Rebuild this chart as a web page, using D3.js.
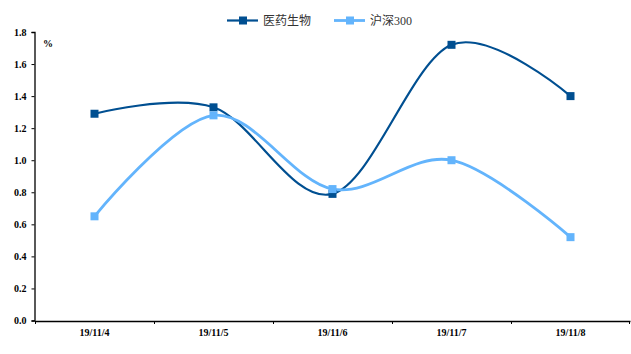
<!DOCTYPE html>
<html>
<head>
<meta charset="utf-8">
<script src="https://cdn.jsdelivr.net/npm/d3@7"></script>
<style>
    body { margin: 0; background: #fff; }
    svg { display: block; }
</style>
</head>
<body>
<script>
// Chart data
var dates = ["19/11/4", "19/11/5", "19/11/6", "19/11/7", "19/11/8"];
var pharma = [1.29, 1.33, 0.79, 1.72, 1.40];
var hs300 = [0.65, 1.28, 0.82, 1.00, 0.52];
var yTicks = [0, 0.2, 0.4, 0.6, 0.8, 1.0, 1.2, 1.4, 1.6, 1.8];

var series = [
    { name: "医药生物", values: pharma, color: "#004f91", width: 2.2 },
    { name: "沪深300", values: hs300, color: "#63b4fc", width: 2.8 }
];

var width = 631, height = 354;
var margin = { top: 32, right: 1, bottom: 33.5, left: 35 };

var svg = d3.select("body").append("svg")
    .attr("width", width)
    .attr("height", height);

// Scales
var x = d3.scaleBand()
    .domain(dates)
    .range([margin.left, width - margin.right]);

var y = d3.scaleLinear()
    .domain([0, 1.8])
    .range([height - margin.bottom, margin.top]);

// Y axis
var yAxis = svg.append("g")
    .attr("transform", "translate(" + (margin.left - 0.5) + ",0)")
    .call(d3.axisLeft(y).tickValues(yTicks).tickFormat(d3.format(".1f")).tickSize(3).tickPadding(5));

// X axis with ticks on band edges
var xAxis = svg.append("g")
    .attr("transform", "translate(0," + (y(0) + 0.5) + ")")
    .call(d3.axisBottom(x).tickSize(0).tickPadding(8));

xAxis.selectAll(".edge")
    .data(dates.map(d => x(d)).concat([x.range()[1] - 1]))
    .join("line")
    .attr("class", "edge")
    .attr("x1", d => d + 0.5)
    .attr("x2", d => d + 0.5)
    .attr("y1", 0)
    .attr("y2", 3)
    .attr("stroke", "#000");

svg.selectAll(".domain").attr("stroke", "#000").attr("stroke-width", 1.3);
svg.selectAll(".tick line").attr("stroke", "#000");
svg.selectAll(".tick text")
    .attr("fill", "#000")
    .style("font-family", "'Liberation Serif', 'Times New Roman', serif")
    .style("font-weight", "bold")
    .style("font-size", "10px");

// Unit label
svg.append("text")
    .attr("x", 43)
    .attr("y", 47)
    .style("font-family", "'Liberation Serif', serif")
    .style("font-weight", "bold")
    .style("font-size", "10px")
    .text("%");

// Lines
var line = d3.line()
    .x((d, i) => x(dates[i]) + x.bandwidth() / 2)
    .y(d => y(d))
    .curve(d3.curveCatmullRom.alpha(0));

series.forEach(s => {
    svg.append("path")
        .datum(s.values)
        .attr("fill", "none")
        .attr("stroke", s.color)
        .attr("stroke-width", s.width)
        .attr("d", line);
});

series.forEach(s => {
    svg.append("g")
        .selectAll("rect")
        .data(s.values)
        .join("rect")
        .attr("x", (d, i) => x(dates[i]) + x.bandwidth() / 2 - 4)
        .attr("y", d => y(d) - 4)
        .attr("width", 8)
        .attr("height", 8)
        .attr("fill", s.color);
});

// Legend
var legendX = [227, 334];
var legend = svg.append("g")
    .selectAll("g")
    .data(series)
    .join("g")
    .attr("transform", (d, i) => "translate(" + legendX[i] + ",20.5)");

legend.append("line")
    .attr("x1", 0).attr("x2", 31)
    .attr("stroke", d => d.color)
    .attr("stroke-width", d => d.width);

legend.append("rect")
    .attr("x", 12).attr("y", -4)
    .attr("width", 8).attr("height", 8)
    .attr("fill", d => d.color);

legend.append("text")
    .attr("x", 36)
    .attr("y", 4.5)
    .attr("fill", "#333")
    .style("font-family", "'Liberation Serif', 'Noto Sans CJK SC', serif")
    .style("font-size", "12px")
    .text(d => d.name);
</script>
</body>
</html>
